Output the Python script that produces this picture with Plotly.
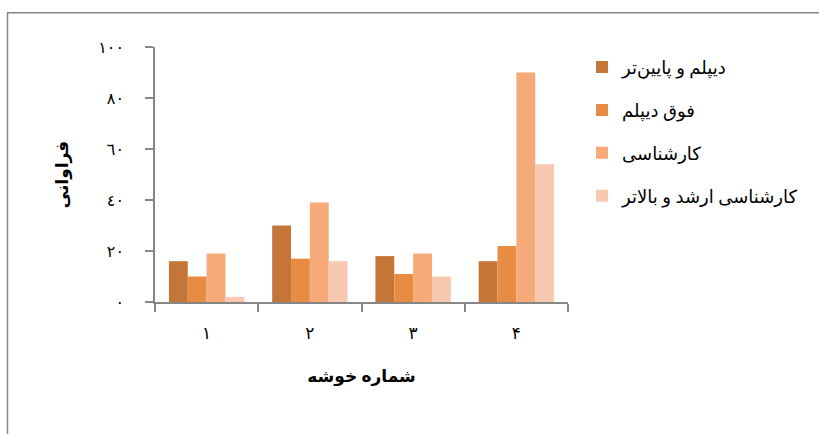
import plotly.graph_objects as go

categories = ["۱", "۲", "۳", "۴"]
series_names = ["دیپلم و پایین‌تر", "فوق دیپلم", "کارشناسی", "کارشناسی ارشد و بالاتر"]
diploma_below = [16, 30, 18, 16]
associate = [10, 17, 11, 22]
bachelor = [19, 39, 19, 90]
master_above = [2, 16, 10, 54]
series_values = [diploma_below, associate, bachelor, master_above]
colors = ["#C47638", "#E88C44", "#F6AA79", "#F8C8B1"]
y_tickvals = [0, 20, 40, 60, 80, 100]
y_ticktext = ["٠", "٢٠", "٤٠", "٦٠", "٨٠", "١٠٠"]

FONT = "Liberation Serif, DejaVu Serif, DejaVu Sans, serif"

fig = go.Figure()
for name, vals, col in zip(series_names, series_values, colors):
    fig.add_trace(go.Bar(
        x=categories, y=vals, name=name, legendgroup=name,
        marker=dict(color=col, line=dict(width=0)),
    ))

fig.update_layout(
    width=819, height=434,
    margin=dict(l=155, r=251, t=47, b=132),
    paper_bgcolor="white", plot_bgcolor="white",
    barmode="group", bargap=0.27, bargroupgap=0,
    font=dict(family=FONT, color="black", size=15),
    showlegend=True,
    legend=dict(
        x=1.034, xanchor="left", y=0.993, yanchor="top",
        font=dict(size=18, family=FONT, color="black"),
        tracegroupgap=16.5, bgcolor="rgba(0,0,0,0)", itemwidth=30,
    ),
    xaxis=dict(
        type="category", tickson="boundaries",
        showline=True, linecolor="#868686", linewidth=1.5,
        ticks="outside", ticklen=8, tickcolor="#868686", tickwidth=1.5,
        ticklabelstandoff=15,
        tickfont=dict(size=17, family=FONT),
        showgrid=False, zeroline=False,
        title=dict(text="<b>شماره خوشه</b>", font=dict(size=17, family=FONT), standoff=28),
    ),
    yaxis=dict(
        range=[0, 100], tickvals=y_tickvals, ticktext=y_ticktext,
        showline=True, linecolor="#868686", linewidth=1.5,
        ticks="outside", ticklen=8, tickcolor="#868686", tickwidth=1.5,
        ticklabelstandoff=18,
        tickfont=dict(size=16, family=FONT),
        showgrid=False, zeroline=False,
        title=dict(text="<b>فراوانی</b>", font=dict(size=17, family=FONT), standoff=25),
    ),
    shapes=[dict(
        type="rect", xref="paper", yref="paper",
        x0=(7.5 - 155) / 413, x1=(840 - 155) / 413,
        y0=-(460 - 301.7) / 255, y1=1 + (46.7 - 12.5) / 255,
        line=dict(color="#868686", width=1.5), fillcolor="rgba(0,0,0,0)", layer="below",
    )],
)

fig.write_html("out.html")
